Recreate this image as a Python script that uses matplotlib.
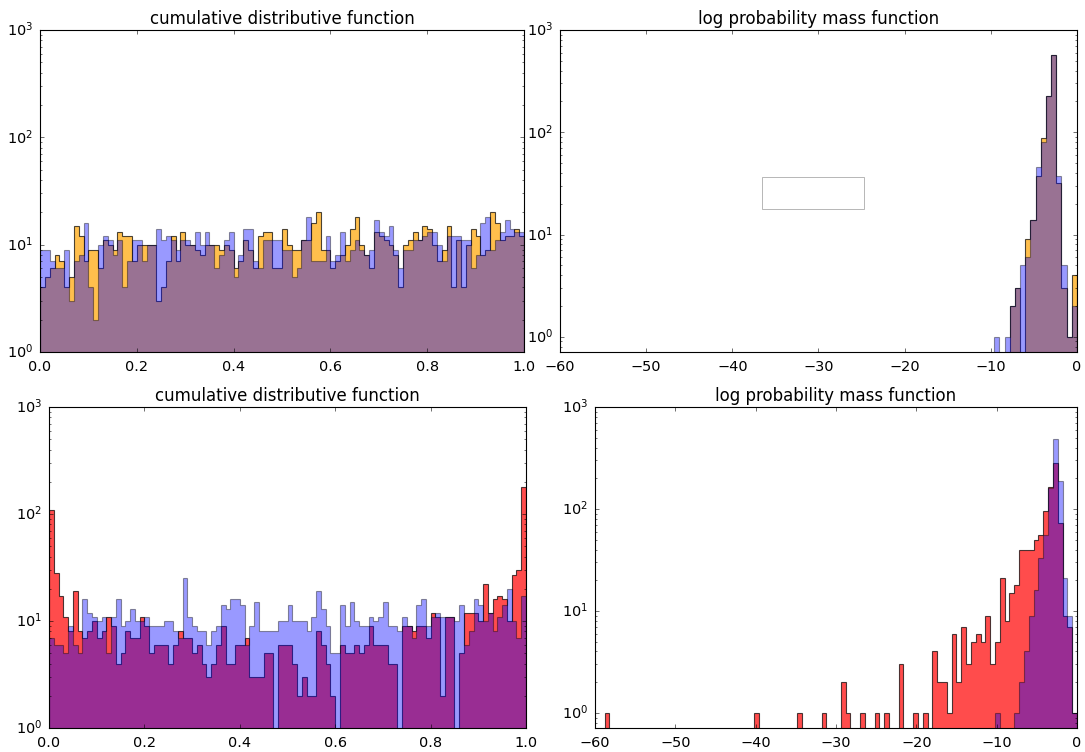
import matplotlib
matplotlib.use("Agg")
import matplotlib.pyplot as plt
from matplotlib.patches import Rectangle
import numpy as np

# counts per bin (100 bins each)
cdf_top_orange = [4, 5, 6, 8, 7, 4, 5, 15, 12, 7, 9, 9, 6, 11, 10, 9, 13, 12, 12, 7,
                  10, 10, 10, 10, 3, 4, 7, 12, 7, 13, 10, 10, 9, 8, 10, 10, 10, 9, 10, 9,
                  6, 7, 11, 9, 6, 12, 13, 13, 6, 6, 14, 10, 9, 9, 11, 11, 16, 20, 9, 9,
                  6, 7, 8, 10, 14, 18, 10, 8, 6, 13, 12, 11, 10, 8, 4, 10, 11, 13, 11, 15,
                  14, 10, 7, 9, 15, 4, 11, 4, 10, 14, 12, 8, 9, 20, 16, 11, 12, 12, 14, 12]
cdf_top_blue = [9, 9, 7, 6, 6, 9, 3, 7, 8, 16, 4, 2, 10, 12, 11, 8, 11, 4, 7, 11,
                11, 7, 10, 10, 14, 11, 12, 11, 9, 11, 11, 10, 13, 10, 13, 10, 6, 8, 11, 13,
                5, 8, 14, 14, 7, 6, 11, 11, 11, 11, 9, 9, 5, 6, 11, 18, 7, 7, 7, 12,
                7, 8, 13, 7, 9, 11, 9, 8, 9, 17, 13, 12, 15, 9, 6, 9, 9, 11, 11, 12,
                13, 13, 10, 7, 12, 12, 12, 11, 11, 6, 8, 16, 18, 9, 11, 13, 17, 14, 13, 13]

cdf_bot_red = [110, 28, 17, 11, 8, 19, 8, 7, 8, 10, 7, 8, 11, 9, 4, 5, 8, 7, 7, 11,
               9, 5, 6, 6, 6, 4, 6, 8, 7, 7, 5, 6, 4, 3, 4, 6, 9, 4, 4, 6,
               6, 7, 3, 3, 3, 5, 5, 0, 6, 6, 6, 4, 2, 3, 2, 2, 8, 6, 4, 2,
               0, 6, 5, 5, 6, 5, 6, 9, 6, 6, 6, 4, 4, 0, 9, 9, 8, 9, 9, 7,
               12, 11, 2, 11, 11, 0, 5, 12, 12, 12, 10, 22, 12, 16, 17, 16, 10, 27, 30, 180]
cdf_bot_blue = [7, 6, 6, 5, 9, 6, 5, 16, 12, 11, 10, 11, 5, 11, 16, 9, 10, 13, 10, 10,
                11, 9, 9, 9, 10, 10, 8, 7, 25, 11, 9, 8, 8, 6, 8, 9, 14, 13, 16, 16,
                14, 6, 9, 15, 8, 8, 8, 8, 10, 10, 14, 10, 10, 10, 8, 11, 19, 13, 9, 5,
                5, 14, 9, 15, 10, 9, 9, 11, 10, 11, 15, 9, 9, 8, 11, 9, 7, 14, 16, 9,
                11, 12, 11, 11, 11, 10, 14, 6, 8, 16, 14, 10, 12, 8, 11, 14, 20, 10, 7, 17]

# log pmf panels: only the occupied bins, everything else is zero
lpmf_top_bins = [84, 86, 87, 88, 89, 90, 91, 92, 93, 94, 95, 96, 97, 98, 99]
lpmf_top_orange = [0, 0, 2, 3, 0, 9, 14, 37, 87, 227, 575, 32, 3, 1, 4]
lpmf_top_blue = [1, 1, 2, 3, 5, 6, 14, 46, 81, 225, 570, 37, 5, 1, 2]

lpmf_bot_red_bins = [2, 33, 42, 47, 51, 52, 55, 58, 60, 63, 66, 68,
                     70, 71, 72, 73, 74, 75, 76, 77, 78, 79, 80, 81, 82, 83, 84,
                     85, 86, 87, 88, 89, 90, 91, 92, 93, 94, 95, 96, 97, 98, 99]
lpmf_bot_red = [1, 1, 1, 1, 2, 1, 1, 1, 1, 3, 1, 1,
                4, 2, 2, 1, 6, 2, 7, 3, 5, 6, 5, 9, 3, 5, 21,
                8, 15, 18, 40, 40, 40, 50, 55, 95, 165, 282, 72, 9, 7, 1]
lpmf_bot_blue_bins = [83, 87, 88, 89, 90, 91, 92, 93, 94, 95, 96, 97, 98, 99]
lpmf_bot_blue = [1, 1, 2, 4, 9, 16, 33, 56, 160, 483, 187, 21, 9, 1]

cdf_edges = np.linspace(0, 1, 101)
lpmf_edges = np.linspace(-60, 0, 101)


def full(bins, vals):
    out = np.zeros(100)
    out[bins] = vals
    return out


plt.style.use("classic")
plt.rcParams["font.family"] = ["DejaVu Sans"]
plt.rcParams["font.size"] = 15
plt.rcParams["xtick.labelsize"] = 13
plt.rcParams["ytick.labelsize"] = 13
plt.rcParams["xtick.major.pad"] = 7
plt.rcParams["ytick.major.pad"] = 6

fig = plt.figure(figsize=(1085 / 80, 752 / 80), dpi=80, facecolor="white")

ax1 = fig.add_axes([0.0369, 0.5319, 0.4461, 0.4282])
ax2 = fig.add_axes([0.5161, 0.5319, 0.4765, 0.4282])
ax3 = fig.add_axes([0.0452, 0.0319, 0.4396, 0.4269])
ax4 = fig.add_axes([0.5484, 0.0319, 0.4442, 0.4269])


def draw(ax, edges, first, second, c1):
    mids = (edges[:-1] + edges[1:]) / 2
    ax.hist(mids, bins=edges, weights=first, histtype="stepfilled", color=c1,
            alpha=0.7, edgecolor="black", linewidth=1, log=True)
    ax.hist(mids, bins=edges, weights=second, histtype="stepfilled", color="blue",
            alpha=0.4, edgecolor="black", linewidth=1, log=True)


draw(ax1, cdf_edges, cdf_top_orange, cdf_top_blue, "orange")
ax1.set_xlim(0, 1)
ax1.set_ylim(1, 1000)
ax1.set_title("cumulative distributive function", fontsize=15)

draw(ax2, lpmf_edges, full(lpmf_top_bins, lpmf_top_orange),
     full(lpmf_top_bins, lpmf_top_blue), "orange")
ax2.set_xlim(-60, 0)
ax2.set_ylim(0.71, 1000)
ax2.set_title("log probability mass function", fontsize=15)
# empty legend frame
ax2.add_patch(Rectangle((0.391, 0.444), 0.197, 0.099, transform=ax2.transAxes,
                        facecolor="white", edgecolor="#b0b0b0", linewidth=0.8))

draw(ax3, cdf_edges, cdf_bot_red, cdf_bot_blue, "red")
ax3.set_xlim(0, 1)
ax3.set_ylim(1, 1000)
ax3.set_title("cumulative distributive function", fontsize=15)

draw(ax4, lpmf_edges, full(lpmf_bot_red_bins, lpmf_bot_red),
     full(lpmf_bot_blue_bins, lpmf_bot_blue), "red")
ax4.set_xlim(-60, 0)
ax4.set_ylim(0.71, 1000)
ax4.set_title("log probability mass function", fontsize=15)

for ax in [ax1, ax3]:
    ax.set_xticks([0.0, 0.2, 0.4, 0.6, 0.8, 1.0])
for ax in [ax2, ax4]:
    ax.set_xticks([-60, -50, -40, -30, -20, -10, 0])

fig.savefig("out.png", dpi=80, facecolor="white")
